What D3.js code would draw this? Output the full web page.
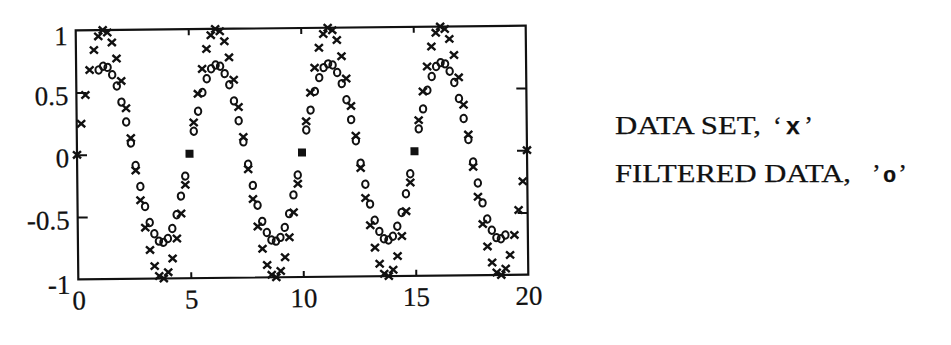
<!DOCTYPE html>
<html lang="en">
<head>
<meta charset="utf-8">
<title>Data set and filtered data</title>
<script src="https://cdn.jsdelivr.net/npm/d3@7"></script>
<style>
  body { margin: 0; background: #fff; }
  svg { display: block; }
  text { font-family: "Liberation Serif", "DejaVu Serif", serif; fill: #111; stroke: #111; stroke-width: 0.25px; }
</style>
</head>
<body>
<svg id="chart" width="951" height="345"></svg>
<script>
/** sample spacing of the data set, and the time the filtered data starts at */
var dt = 0.2,
    filteredStart = 1.0;

/** data set 'x', one value per sample from t=0 to t=20 (null where the square is drawn) */
var dataX = [
  0, 0.25, 0.48, 0.68, 0.84, 0.95, 1.00, 0.98, 0.90, 0.77, 0.59, 0.37, 0.13,
  -0.13, -0.37, -0.59, -0.77, -0.90, -0.98, -1.00, -0.95, -0.84, -0.68, -0.48, -0.25,
  null, 0.25, 0.48, 0.68, 0.84, 0.95, 1.00, 0.98, 0.90, 0.77, 0.59, 0.37, 0.13,
  -0.13, -0.37, -0.59, -0.77, -0.90, -0.98, -1.00, -0.95, -0.84, -0.68, -0.48, -0.25,
  null, 0.25, 0.48, 0.68, 0.84, 0.95, 1.00, 0.98, 0.90, 0.77, 0.59, 0.37, 0.13,
  -0.13, -0.37, -0.59, -0.77, -0.90, -0.98, -1.00, -0.95, -0.84, -0.68, -0.48, -0.25,
  null, 0.25, 0.48, 0.68, 0.84, 0.95, 1.00, 0.98, 0.90, 0.77, 0.59, 0.37, 0.13,
  -0.13, -0.37, -0.59, -0.77, -0.90, -0.98, -1.00, -0.95, -0.84, -0.68, -0.48, -0.25,
  0
];

/** filtered data 'o', from t=1 to t=19 */
var filteredO = [
  0.68, 0.71, 0.70, 0.64, 0.55, 0.42, 0.26, 0.09,
  -0.09, -0.26, -0.42, -0.55, -0.64, -0.70, -0.71, -0.68, -0.60, -0.49, -0.34, -0.18,
  null, 0.18, 0.34, 0.49, 0.60, 0.68, 0.71, 0.70, 0.64, 0.55, 0.42, 0.26, 0.09,
  -0.09, -0.26, -0.42, -0.55, -0.64, -0.70, -0.71, -0.68, -0.60, -0.49, -0.34, -0.18,
  null, 0.18, 0.34, 0.49, 0.60, 0.68, 0.71, 0.70, 0.64, 0.55, 0.42, 0.26, 0.09,
  -0.09, -0.26, -0.42, -0.55, -0.64, -0.70, -0.71, -0.68, -0.60, -0.49, -0.34, -0.18,
  null, 0.18, 0.34, 0.49, 0.60, 0.68, 0.71, 0.70, 0.64, 0.55, 0.42, 0.26, 0.09,
  -0.09, -0.26, -0.42, -0.55, -0.64, -0.70, -0.71, -0.68
];

/** points where both series meet and print as a filled square */
var squareT = [5, 10, 15],
    squareY = [0, 0, 0];

var xTicks = [0, 5, 10, 15, 20],
    xTickLabels = ["0", "5", "10", "15", "20"],
    yTicks = [-1, -0.5, 0, 0.5, 1],
    yTickLabels = ["-1", "-0.5", "0", "0.5", "1"],
    innerXTicks = [5, 10, 15],
    innerYTicks = [-0.5, 0, 0.5];

var legendNames = ["DATA SET,", "FILTERED DATA,"],
    legendMarks = [["\u2018", "x", "\u2019"], ["\u2019", "o", "\u2019"]];

var svg = d3.select("#chart"),
    plotLeft = 77, plotRight = 527, plotTop = 28, plotBottom = 277;

var xScale = d3.scaleLinear().domain([0, 20]).range([plotLeft, plotRight]),
    yScale = d3.scaleLinear().domain([-1, 1]).range([plotBottom, plotTop]);

/** the scanned figure sits a little tilted */
var g = svg.append("g")
    .attr("transform", "rotate(-0.6," + (plotLeft + plotRight) / 2 + "," + (plotTop + plotBottom) / 2 + ")");

/** inward ticks on all four sides */
g.append("g").attr("transform", "translate(0," + plotBottom + ")")
 .call(d3.axisBottom(xScale).tickValues(innerXTicks).tickSize(-6).tickFormat(""));
g.append("g").attr("transform", "translate(0," + plotTop + ")")
 .call(d3.axisTop(xScale).tickValues(innerXTicks).tickSize(-6).tickFormat(""));
g.append("g").attr("transform", "translate(" + plotLeft + ",0)")
 .call(d3.axisLeft(yScale).tickValues(innerYTicks).tickSize(-10).tickFormat(""));
g.append("g").attr("transform", "translate(" + plotRight + ",0)")
 .call(d3.axisRight(yScale).tickValues(innerYTicks).tickSize(-10).tickFormat(""));
g.selectAll(".domain").remove();
g.selectAll(".tick line").attr("stroke", "#111").attr("stroke-width", 2);

/** frame */
g.append("rect")
 .attr("x", xScale(0)).attr("y", yScale(1))
 .attr("width", xScale(20) - xScale(0)).attr("height", yScale(-1) - yScale(1))
 .attr("fill", "none").attr("stroke", "#111").attr("stroke-width", 2.2);

/** tick labels */
var xl = g.append("g").attr("transform", "translate(0," + plotBottom + ")")
 .call(d3.axisBottom(xScale).tickValues(xTicks).tickSize(0).tickPadding(11)
   .tickFormat(function(d, i) { return xTickLabels[i]; }));
var yl = g.append("g").attr("transform", "translate(" + plotLeft + ",0)")
 .call(d3.axisLeft(yScale).tickValues(yTicks).tickSize(0).tickPadding(8)
   .tickFormat(function(d, i) { return yTickLabels[i]; }));
[xl, yl].forEach(function(a) {
  a.attr("font-family", "Liberation Serif").attr("font-size", 27);
  a.select(".domain").remove();
  a.selectAll("text").attr("fill", "#111");
});
yl.selectAll("text").attr("dy", function(d) { return Math.abs(d) === 1 ? "0.52em" : "0.43em"; });

/** filtered data, circles */
g.selectAll(".o")
 .data(filteredO.map(function(v, i) { return [filteredStart + i * dt, v]; }).filter(function(p) { return p[1] !== null; }))
 .enter().append("ellipse")
 .attr("class", "o")
 .attr("cx", function(p) { return xScale(p[0]); })
 .attr("cy", function(p) { return yScale(p[1]); })
 .attr("rx", 3.2).attr("ry", 3.7)
 .attr("fill", "none").attr("stroke", "#111").attr("stroke-width", 2);

/** data set, crosses */
g.selectAll(".x")
 .data(dataX.map(function(v, i) { return [i * dt, v]; }).filter(function(p) { return p[1] !== null; }))
 .enter().append("path")
 .attr("class", "x")
 .attr("transform", function(p) { return "translate(" + xScale(p[0]) + "," + yScale(p[1]) + ")"; })
 .attr("d", "M-4,-3.6L4,3.6M4,-3.6L-4,3.6")
 .attr("stroke", "#111").attr("stroke-width", 2.4);

/** filled squares */
g.selectAll(".sq")
 .data(squareT)
 .enter().append("rect")
 .attr("class", "sq")
 .attr("x", function(d) { return xScale(d) - 4; })
 .attr("y", function(d, i) { return yScale(squareY[i]) - 4; })
 .attr("width", 8).attr("height", 8)
 .attr("fill", "#111");

/** legend text */
var legendY = [134, 182],
    nameLength = [146, 236],
    markX = [773, 872],
    markLength = [40, 35];
legendNames.forEach(function(name, i) {
  svg.append("text")
   .attr("x", 615).attr("y", legendY[i])
   .attr("font-size", 26)
   .attr("textLength", nameLength[i]).attr("lengthAdjust", "spacingAndGlyphs")
   .text(name);
  var t = svg.append("text")
   .attr("x", markX[i]).attr("y", legendY[i])
   .attr("font-size", 26)
   .attr("textLength", markLength[i]).attr("lengthAdjust", "spacing");
  t.append("tspan").text(legendMarks[i][0]);
  t.append("tspan").attr("font-family", "Liberation Mono").attr("font-weight", "bold")
   .attr("font-size", i === 0 ? 24 : 22).text(legendMarks[i][1]);
  t.append("tspan").text(legendMarks[i][2]);
});
</script>
</body>
</html>
